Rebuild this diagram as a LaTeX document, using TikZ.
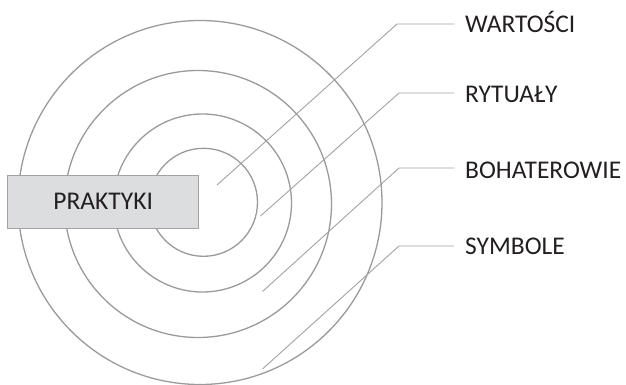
\documentclass[tikz,border=0pt]{standalone}
\usepackage{fontspec}
\setmainfont{Carlito}
\begin{document}
\begin{tikzpicture}[x=1pt,y=-1pt,
  ring/.style={draw=ringgray,line width=1.3pt},
  leader/.style={draw=leadgray,line width=0.9pt},
  lab/.style={anchor=west,inner sep=0pt,text=txt,font=\fontsize{25.5}{30}\selectfont},
  boxst/.style={draw=leadgray,fill=boxfill,line width=1pt,minimum width=191.5pt,minimum height=53pt,inner sep=0pt,text=txt,font=\fontsize{25.5}{30}\selectfont}]
\definecolor{ringgray}{HTML}{9A9A9C}
\definecolor{leadgray}{HTML}{A2A2A4}
\definecolor{boxfill}{HTML}{DCDDDF}
\definecolor{txt}{HTML}{231F20}
\useasboundingbox (0,0) rectangle (626,385);
% rings
\draw[ring] (200,202.5) circle (182);
\draw[ring] (198,204) circle (133.5);
\draw[ring] (202.5,203) circle (89);
\draw[ring] (203.5,202.3) circle (54);
% box
\node[boxst] (prak) at (103.2,201.5) {PRAKTYKI};
% labels
\node[lab] (wart) at (465,22) {WARTOŚCI};
\node[lab] (ryt) at (465,94) {RYTUAŁY};
\node[lab] (boh) at (465,170) {BOHATEROWIE};
\node[lab] (sym) at (465,246) {SYMBOLE};
% leader points
\coordinate (ew) at (397,24);   \coordinate (tw) at (217,185);
\coordinate (er) at (399,93);   \coordinate (tr) at (260.5,216);
\coordinate (eb) at (399,168);  \coordinate (tb) at (262.5,291.5);
\coordinate (es) at (399,246);  \coordinate (ts) at (262.5,369);
\draw[leader] (tw) -- (ew) -- ([xshift=-11pt]ew -| wart.west);
\draw[leader] (tr) -- (er) -- ([xshift=-11pt]er -| ryt.west);
\draw[leader] (tb) -- (eb) -- ([xshift=-11pt]eb -| boh.west);
\draw[leader] (ts) -- (es) -- ([xshift=-11pt]es -| sym.west);
\end{tikzpicture}
\end{document}
